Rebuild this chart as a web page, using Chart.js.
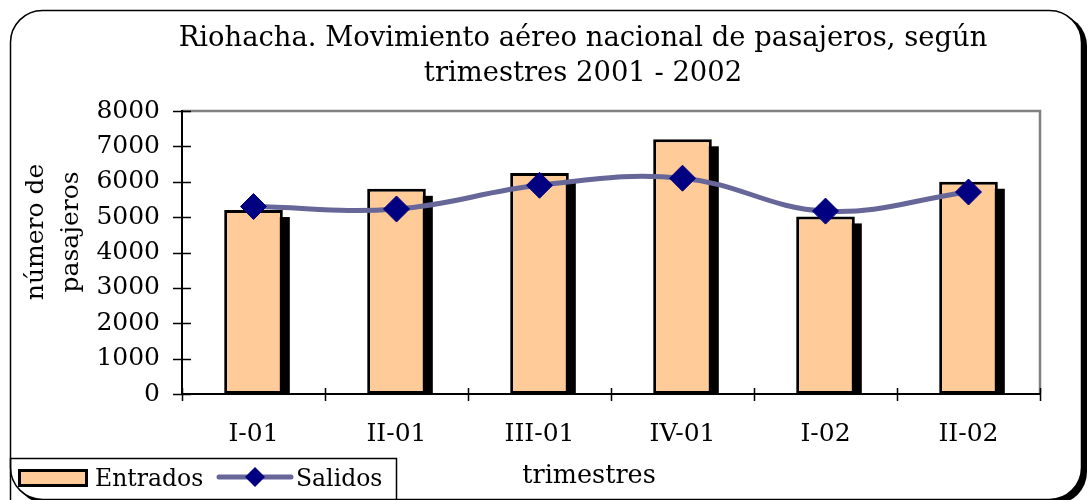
<!DOCTYPE html>
<html>
<head>
<meta charset="utf-8">
<script src="https://cdn.jsdelivr.net/npm/chart.js@4/dist/chart.umd.min.js"></script>
<style>
  html, body { margin: 0; padding: 0; background: #fff; }
  #wrap { width: 1088px; height: 500px; }
</style>
</head>
<body>
<div id="wrap"><canvas id="chart" width="1088" height="500"></canvas></div>
<script>
// data
const categories = ['I-01', 'II-01', 'III-01', 'IV-01', 'I-02', 'II-02'];
const entrados = [5200, 5800, 6250, 7200, 5020, 6000];
const salidos = [5300, 5230, 5900, 6100, 5170, 5710];
const yMin = 0, yMax = 8000, yStep = 1000;

const titleLines = ['Riohacha. Movimiento aéreo nacional de pasajeros, según', 'trimestres 2001 - 2002'];
const yTitleLines = ['número de', 'pasajeros'];
const xTitle = 'trimestres';

const SERIF = '"DejaVu Serif", "Liberation Serif", serif';
Chart.defaults.font.family = SERIF;
Chart.defaults.color = '#000';

function roundRect(ctx, x, y, w, h, r) {
    ctx.beginPath();
    ctx.moveTo(x + r, y);
    ctx.lineTo(x + w - r, y);
    ctx.arcTo(x + w, y, x + w, y + r, r);
    ctx.lineTo(x + w, y + h - r);
    ctx.arcTo(x + w, y + h, x + w - r, y + h, r);
    ctx.lineTo(x + r, y + h);
    ctx.arcTo(x, y + h, x, y + h - r, r);
    ctx.lineTo(x, y + r);
    ctx.arcTo(x, y, x + r, y, r);
    ctx.closePath();
}

// outer rounded frame + grey plot box, drawn under everything
const framePlugin = {
    id: 'frame',
    beforeDraw(chart) {
        const ctx = chart.ctx;
        const a = chart.chartArea;
        ctx.save();
        ctx.fillStyle = '#000';
        roundRect(ctx, 15, 14, 1072, 490, 32);
        ctx.fill();
        ctx.fillStyle = '#fff';
        ctx.strokeStyle = '#000';
        ctx.lineWidth = 1.5;
        roundRect(ctx, 10.5, 10.5, 1071, 489, 32);
        ctx.fill();
        ctx.stroke();

        ctx.strokeStyle = '#808080';
        ctx.lineWidth = 2.5;
        ctx.beginPath();
        ctx.moveTo(a.left, a.top);
        ctx.lineTo(a.right, a.top);
        ctx.lineTo(a.right, a.bottom);
        ctx.stroke();
        ctx.restore();
    }
};

// black block shadow behind each bar, taken from the bar elements
const barShadow = {
    id: 'barShadow',
    beforeDatasetDraw(chart, args) {
        if (args.meta.type !== 'bar') return;
        const ctx = chart.ctx;
        const off = 7;
        ctx.save();
        ctx.fillStyle = '#000';
        args.meta.data.forEach(el => {
            const {x, y, base, width} = el.getProps(['x', 'y', 'base', 'width'], true);
            ctx.fillRect(x - width / 2 + off, y + off, width, base - y - off);
        });
        ctx.restore();
    }
};

// tick marks crossing the axes, titles and the boxed legend
const decor = {
    id: 'decor',
    afterDraw(chart) {
        const ctx = chart.ctx;
        const x = chart.scales.x, y = chart.scales.y;
        const a = chart.chartArea;
        ctx.save();
        ctx.strokeStyle = '#000';
        ctx.lineWidth = 1.5;
        ctx.beginPath();
        y.ticks.forEach(t => {
            const py = Math.round(y.getPixelForValue(t.value)) + 0.5;
            ctx.moveTo(a.left - 9, py);
            ctx.lineTo(a.left + 9, py);
        });
        for (let i = 0; i <= categories.length; i++) {
            const px = Math.round(x.left + i * x.width / categories.length) + 0.5;
            ctx.moveTo(px, a.bottom - 6);
            ctx.lineTo(px, a.bottom + 7);
        }
        ctx.stroke();

        ctx.fillStyle = '#000';
        ctx.textAlign = 'center';
        ctx.textBaseline = 'middle';
        ctx.font = '27.4px ' + SERIF;
        ctx.fillText(titleLines[0], 583, 39);
        ctx.fillText(titleLines[1], 583, 74);

        ctx.font = '25.5px ' + SERIF;
        ctx.fillText(xTitle, 589, 476);

        ctx.font = '25px ' + SERIF;
        ctx.save();
        ctx.translate(36, 232);
        ctx.rotate(-Math.PI / 2);
        ctx.fillText(yTitleLines[0], 0, 0);
        ctx.fillText(yTitleLines[1], 0, 35);
        ctx.restore();

        // legend
        const bar = chart.data.datasets[1], line = chart.data.datasets[0];
        ctx.lineWidth = 1.5;
        ctx.strokeRect(10.5, 458.5, 386, 50);

        ctx.fillStyle = bar.backgroundColor;
        ctx.fillRect(19, 470, 68, 16);
        ctx.lineWidth = 3;
        ctx.strokeRect(19.5, 470.5, 67, 15);

        ctx.strokeStyle = line.borderColor;
        ctx.lineWidth = 5;
        ctx.lineCap = 'round';
        ctx.beginPath();
        ctx.moveTo(219, 477);
        ctx.lineTo(291, 477);
        ctx.stroke();
        ctx.fillStyle = line.pointBackgroundColor;
        ctx.beginPath();
        ctx.moveTo(255, 467);
        ctx.lineTo(265, 477);
        ctx.lineTo(255, 487);
        ctx.lineTo(245, 477);
        ctx.closePath();
        ctx.fill();

        ctx.fillStyle = '#000';
        ctx.textAlign = 'left';
        ctx.font = '23.5px ' + SERIF;
        ctx.fillText(bar.label, 95, 480);
        ctx.fillText(line.label, 296, 480);
        ctx.restore();
    }
};

new Chart(document.getElementById('chart'), {
    data: {
        labels: categories,
        datasets: [{
            type: 'line',
            label: 'Salidos',
            data: salidos,
            order: 1,
            borderColor: '#666699',
            borderWidth: 5,
            tension: 0.4,
            pointStyle: 'rectRot',
            pointRadius: 13,
            pointBackgroundColor: '#000080',
            pointBorderColor: '#000080',
            pointBorderWidth: 1
        }, {
            type: 'bar',
            label: 'Entrados',
            data: entrados,
            order: 2,
            backgroundColor: '#FFCC99',
            borderColor: '#000',
            borderWidth: 3,
            borderSkipped: false,
            categoryPercentage: 1,
            barPercentage: 0.41,
            clip: 0
        }]
    },
    options: {
        responsive: false,
        animation: false,
        layout: { padding: { left: 0, top: 111, right: 48, bottom: 0 } },
        plugins: {
            legend: { display: false },
            title: { display: false },
            tooltip: { enabled: false }
        },
        scales: {
            x: {
                grid: { display: false, drawTicks: false },
                border: { color: '#000', width: 2 },
                ticks: { font: { size: 25 }, padding: 25, maxRotation: 0 },
                afterFit(scale) { scale.height = 106; }
            },
            y: {
                min: yMin,
                max: yMax,
                grid: { display: false, drawTicks: false },
                border: { color: '#000', width: 2 },
                ticks: {
                    stepSize: yStep,
                    font: { size: 25 },
                    padding: 22,
                    callback: v => String(v)
                },
                afterFit(scale) { scale.width = 182; }
            }
        }
    },
    plugins: [framePlugin, barShadow, decor]
});
</script>
</body>
</html>
